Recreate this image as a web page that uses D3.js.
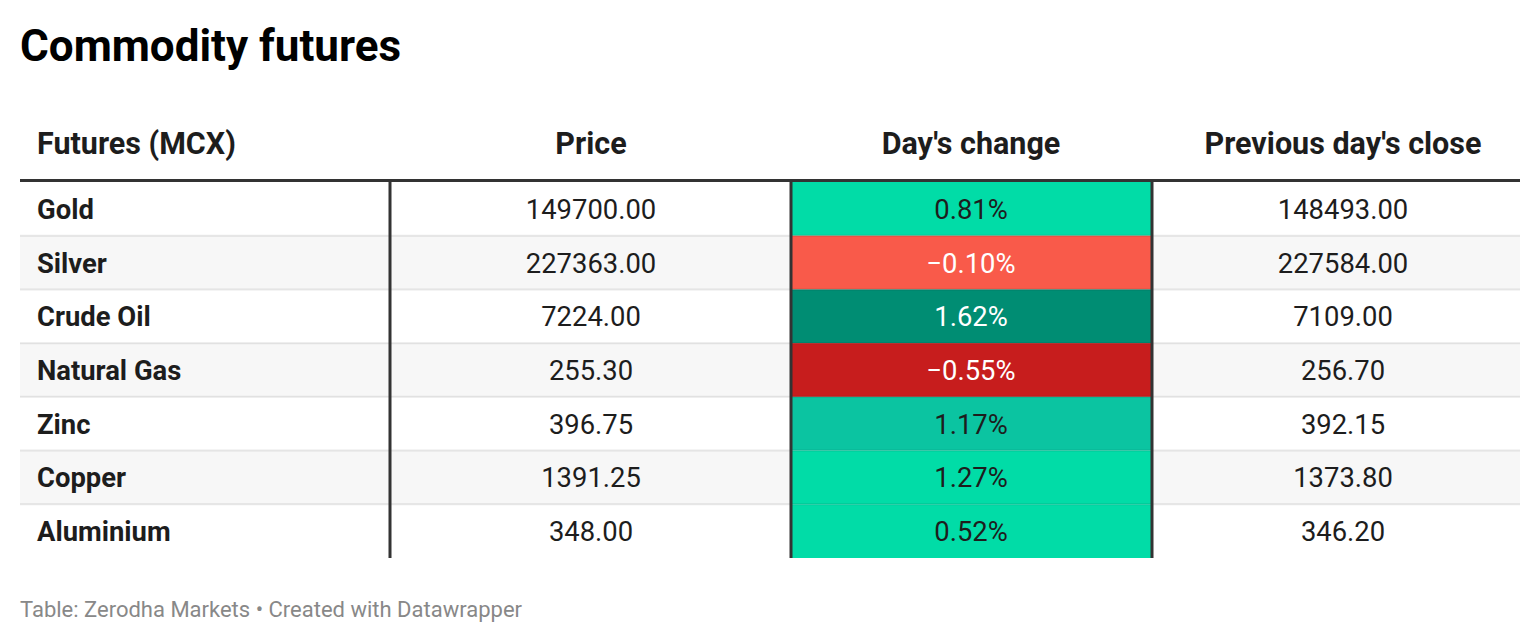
<!DOCTYPE html>
<html>
<head>
<meta charset="utf-8">
<script src="https://cdn.jsdelivr.net/npm/d3@7"></script>
<style>
body { margin:0; padding:0; background:#fff; }
text { font-family: Roboto, "Noto Sans", sans-serif; }
</style>
</head>
<body>
<div id="chart"></div>
<script>
// table data
var commodities = ["Gold", "Silver", "Crude Oil", "Natural Gas", "Zinc", "Copper", "Aluminium"];
var prices      = [149700.00, 227363.00, 7224.00, 255.30, 396.75, 1391.25, 348.00];
var dayChange   = [0.81, -0.10, 1.62, -0.55, 1.17, 1.27, 0.52];
var prevClose   = [148493.00, 227584.00, 7109.00, 256.70, 392.15, 1373.80, 346.20];
var columns     = ["Futures (MCX)", "Price", "Day's change", "Previous day's close"];

var W = 1540, H = 644;
var left = 20, right = 1520;
var tableTop = 182, tableBottom = 558;

var svg = d3.select("#chart").append("svg")
  .attr("width", W)
  .attr("height", H);

// column edges
var colEdges = d3.scaleOrdinal().domain(columns).range([[20, 390], [390, 791], [791, 1152], [1152, 1520]]);
var colText = d3.scaleOrdinal().domain(columns).range([37, 591, 971, 1343]);
var colAnchor = d3.scaleOrdinal().domain(columns).range(["start", "middle", "middle", "middle"]);

var y = d3.scaleBand().domain(commodities).range([tableTop, tableBottom]);

// cell colours for day's change
var changeColor = d3.scaleOrdinal().domain(commodities)
  .range(["#01dca7", "#f95a4a", "#008d73", "#c71d1d", "#0bc4a1", "#01dca7", "#01dca7"]);
var changeText = d3.scaleOrdinal().domain(commodities)
  .range(["#1d1d1d", "#ffffff", "#ffffff", "#ffffff", "#1d1d1d", "#1d1d1d", "#1d1d1d"]);

var fmt = d3.format(".2f");

var rows = commodities.map(function(c, i) {
  return { name: c, price: prices[i], change: dayChange[i], prev: prevClose[i], i: i };
});

// title
svg.append("text")
  .attr("x", 20)
  .attr("y", 61)
  .attr("font-size", "44px")
  .attr("font-weight", "bold")
  .attr("fill", "#000")
  .text("Commodity futures");

// header
svg.selectAll("text.head")
  .data(columns)
  .enter()
  .append("text")
  .attr("class", "head")
  .attr("x", function(d) { return colText(d); })
  .attr("y", 154)
  .attr("text-anchor", function(d) { return colAnchor(d); })
  .attr("font-size", "30.5px")
  .attr("font-weight", "bold")
  .attr("fill", "#1d1d1d")
  .text(function(d) { return d; });

// stripes
svg.selectAll("rect.stripe")
  .data(rows.filter(function(d) { return d.i % 2 == 1; }))
  .enter()
  .append("rect")
  .attr("class", "stripe")
  .attr("x", left)
  .attr("y", function(d) { return y(d.name); })
  .attr("width", right - left)
  .attr("height", y.bandwidth())
  .attr("fill", "#f7f7f7");

// day's change cells
var chg = colEdges("Day's change");
svg.selectAll("rect.chg")
  .data(rows)
  .enter()
  .append("rect")
  .attr("class", "chg")
  .attr("x", chg[0])
  .attr("y", function(d) { return y(d.name); })
  .attr("width", chg[1] - chg[0])
  .attr("height", y.bandwidth())
  .attr("fill", function(d) { return changeColor(d.name); });

// row separators
svg.selectAll("line.sep")
  .data(rows.slice(1))
  .enter()
  .append("line")
  .attr("class", "sep")
  .attr("x1", left)
  .attr("x2", right)
  .attr("y1", function(d) { return y(d.name); })
  .attr("y2", function(d) { return y(d.name); })
  .attr("stroke", "rgba(0,0,0,0.09)")
  .attr("stroke-width", 2);

// vertical rules
var vlines = [colEdges("Price")[0], chg[0], chg[1]];
svg.selectAll("line.vr")
  .data(vlines)
  .enter()
  .append("line")
  .attr("class", "vr")
  .attr("x1", function(d) { return d; })
  .attr("x2", function(d) { return d; })
  .attr("y1", tableTop)
  .attr("y2", tableBottom)
  .attr("stroke", "#333")
  .attr("stroke-width", 3);

// header rule
svg.append("line")
  .attr("x1", left)
  .attr("x2", right)
  .attr("y1", 180.5)
  .attr("y2", 180.5)
  .attr("stroke", "#333")
  .attr("stroke-width", 3);

// cells text
function cellText(cls, col, fn, weight, colorFn) {
  svg.selectAll("text." + cls)
    .data(rows)
    .enter()
    .append("text")
    .attr("class", cls)
    .attr("x", colText(col))
    .attr("y", function(d) { return y(d.name) + y.bandwidth() / 2 + 10; })
    .attr("text-anchor", colAnchor(col))
    .attr("font-size", "27.4px")
    .attr("font-weight", weight)
    .attr("fill", colorFn)
    .text(fn);
}

cellText("name", columns[0], function(d) { return d.name; }, "bold", function() { return "#1d1d1d"; });
cellText("price", columns[1], function(d) { return fmt(d.price); }, "normal", function() { return "#1d1d1d"; });
cellText("change", columns[2], function(d) { return fmt(d.change) + "%"; }, "normal", function(d) { return changeText(d.name); });
cellText("prev", columns[3], function(d) { return fmt(d.prev); }, "normal", function() { return "#1d1d1d"; });

// footer
svg.append("text")
  .attr("x", 20)
  .attr("y", 617)
  .attr("font-size", "22px")
  .attr("fill", "#888")
  .text("Table: Zerodha Markets \u2022 Created with Datawrapper");
</script>
</body>
</html>
